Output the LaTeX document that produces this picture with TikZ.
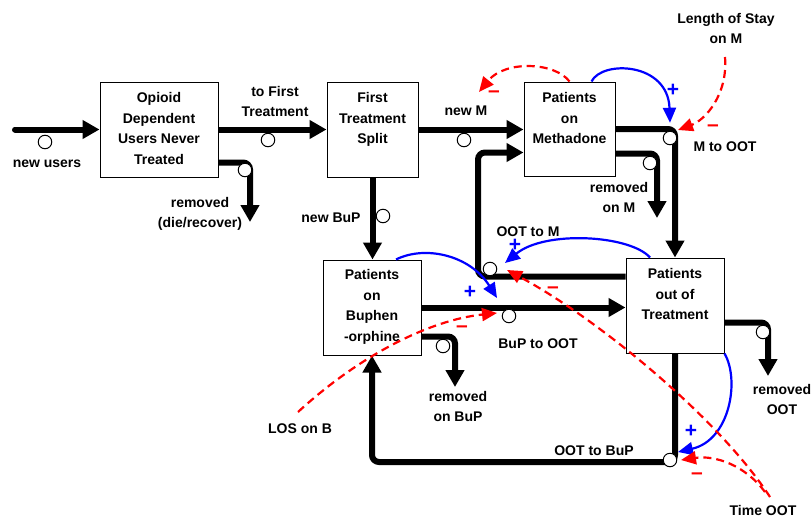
\documentclass[tikz,border=0pt]{standalone}
\usepackage{fontspec}
\setmainfont{Liberation Sans}
\usetikzlibrary{arrows.meta,calc}
\begin{document}
\begin{tikzpicture}[x=1pt,y=-1pt,
  font=\bfseries\fontsize{14}{20.5}\selectfont,
  stock/.style={draw,line width=1pt,fill=white,inner sep=0pt},
  boxtext/.style={align=center,anchor=north,yshift=-11pt,inner sep=0pt},
  flow/.style={line width=6pt,rounded corners=7pt,-{Triangle[length=17pt,width=18pt]}},
  valve/.style={circle,draw,fill=white,line width=1pt,minimum size=13.5pt,inner sep=0pt},
  lbl/.style={align=center,inner sep=0pt},
  plink/.style={blue,line width=2.2pt,-{Triangle[length=15pt,width=13pt]}},
  nlink/.style={red,line width=2.2pt,dash pattern=on 8pt off 5pt,-{Triangle[length=15pt,width=13pt]}},
  plus/.style={blue,font=\bfseries\fontsize{21}{21}\selectfont,inner sep=0pt},
  minus/.style={red,font=\bfseries\fontsize{21}{21}\selectfont,inner sep=0pt},
]
\useasboundingbox (0,0) rectangle (811,520);
\fill[white] (0,0) rectangle (811,520);

% stocks
\node[stock,minimum width=118pt,minimum height=95pt,label={[boxtext]north:Opioid\\Dependent\\Users Never\\Treated}] (odu) at (159,129.5) {};
\node[stock,minimum width=91pt,minimum height=95pt,label={[boxtext]north:First\\Treatment\\Split}] (fts) at (372.5,129.5) {};
\node[stock,minimum width=91pt,minimum height=94pt,label={[boxtext]north:Patients\\on\\Methadone}] (pm) at (569.5,129) {};
\node[stock,minimum width=98pt,minimum height=95pt,label={[boxtext,yshift=1pt]north:Patients\\on\\Buphen\\-orphine}] (pb) at (372,307.5) {};
\node[stock,minimum width=98pt,minimum height=95pt,label={[boxtext]north:Patients\\out of\\Treatment}] (poot) at (675,305.5) {};

% free ends
\coordinate (nuS) at (15,129.5);
\coordinate (rdrE) at (250,222);
\coordinate (omx) at (478,215);
\coordinate (rmE) at (657,218);
\coordinate (rbE) at (455,387);
\coordinate (roE) at (768,376);
\coordinate (obx) at (520,462);
\coordinate (nmT) at (479,92);
\coordinate (lsmS) at (725,57);
\coordinate (losS) at (298,412);
\coordinate (toS) at (770,497);
\coordinate (toS2) at (765,492);

% flows
\draw[flow,line cap=round] (nuS) -- (nuS -| odu.west);
\draw[flow] (odu.east) -- (fts.west);
\draw[flow] ($(odu.north east)+(0,81)$) -| (rdrE);
\draw[flow] (fts.east) -- (fts.east -| pm.west);
\draw[flow] (fts.south) -- (fts.south |- pb.north);
\draw[flow] ($(poot.north west)+(0,19)$) -| (omx) |- ($(pm.north west)+(0,71)$);
\draw[flow] (pb.east) -- (pb.east -| poot.west);
\draw[flow] (pm.east) -| (poot.north);
\draw[flow] ($(pm.north east)+(0,72)$) -| (rmE);
\draw[flow] ($(pb.north east)+(0,77)$) -| (rbE);
\draw[flow] ($(poot.north east)+(0,65)$) -| (roE);
\draw[flow] (poot.south) |- (obx) -| (pb.south);

% valves
\node[valve] (vNU) at (45,142) {};
\node[valve] (vTFT) at (268,140) {};
\node[valve] (vRDR) at (245,170) {};
\node[valve] (vNM) at (464,140) {};
\node[valve] (vNB) at (383,216) {};
\node[valve] (vOM) at (490,269) {};
\node[valve] (vBO) at (509,316) {};
\node[valve] (vMO) at (670,138) {};
\node[valve] (vRM) at (650,163) {};
\node[valve] (vRB) at (443,346) {};
\node[valve] (vRO) at (763,332) {};
\node[valve] (vOB) at (670,460) {};

% labels
\node[lbl,anchor=base] (lNU) at (47,167) {new users};
\node[lbl,anchor=north] (lTFT) at (275,86) {to First\\Treatment};
\node[lbl,anchor=north] (lRDR) at (200,197) {removed\\(die/recover)};
\node[lbl,anchor=base] (lNM) at (466,115) {new M};
\node[lbl,anchor=base] (lNB) at (331,222) {new BuP};
\node[lbl,anchor=base] (lOM) at (528,236) {OOT to M};
\node[lbl,anchor=base] (lBO) at (538,348) {BuP to OOT};
\node[lbl,anchor=base] (lMO) at (725,151) {M to OOT};
\node[lbl,anchor=north] (lRM) at (619,182) {removed\\on M};
\node[lbl,anchor=north] (lRB) at (458,391) {removed\\on BuP};
\node[lbl,anchor=north] (lRO) at (782,384) {removed\\OOT};
\node[lbl,anchor=base] (lOB) at (594,455) {OOT to BuP};
\node[lbl,anchor=base] (lLOS) at (300,433) {LOS on B};
\node[lbl,anchor=north] (lLSM) at (726,13) {Length of Stay\\on M};
\node[lbl,anchor=base] (lTO) at (763,515) {Time OOT};

% positive links
\draw[plink] ($(pm.north)+(22,0)$) .. controls (602,60) and (668,62) .. ($(vMO.north)+(0,-8)$);
\draw[plink] ($(pb.north)+(24,0)$) .. controls (425,245) and (470,255) .. ($(vBO)+(-12,-18)$);
\draw[plink] ($(poot.north)+(-25,0)$) .. controls (630,235) and (545,230) .. ($(vOM)+(15,-6)$);
\draw[plink] (poot.south east) .. controls (740,380) and (730,440) .. ($(vOB)+(8,-8)$);

% negative links
\draw[nlink] (pm.north) .. controls (555,62) and (505,60) .. (nmT);
\draw[nlink] (lsmS) .. controls (728,95) and (705,120) .. ($(vMO)+(8,-8)$);
\draw[nlink] (losS) .. controls (360,355) and (430,320) .. ($(vBO)+(-12,-3)$);
\draw[nlink] (toS) .. controls (720,420) and (600,320) .. ($(vOM)+(17,1)$);
\draw[nlink] (toS2) .. controls (745,465) and (715,455) .. ($(vOB)+(11,0)$);

% polarity signs
\node[plus] (s1) at (673,90) {+};
\node[plus] (s2) at (470,292) {+};
\node[plus] (s3) at (515,245) {+};
\node[plus] (s4) at (691,431) {+};
\node[minus] (m1) at (494,94) {–};
\node[minus] (m2) at (713,128) {–};
\node[minus] (m3) at (553,290) {–};
\node[minus] (m4) at (462,329) {–};
\node[minus] (m5) at (697,476) {–};
\end{tikzpicture}
\end{document}
